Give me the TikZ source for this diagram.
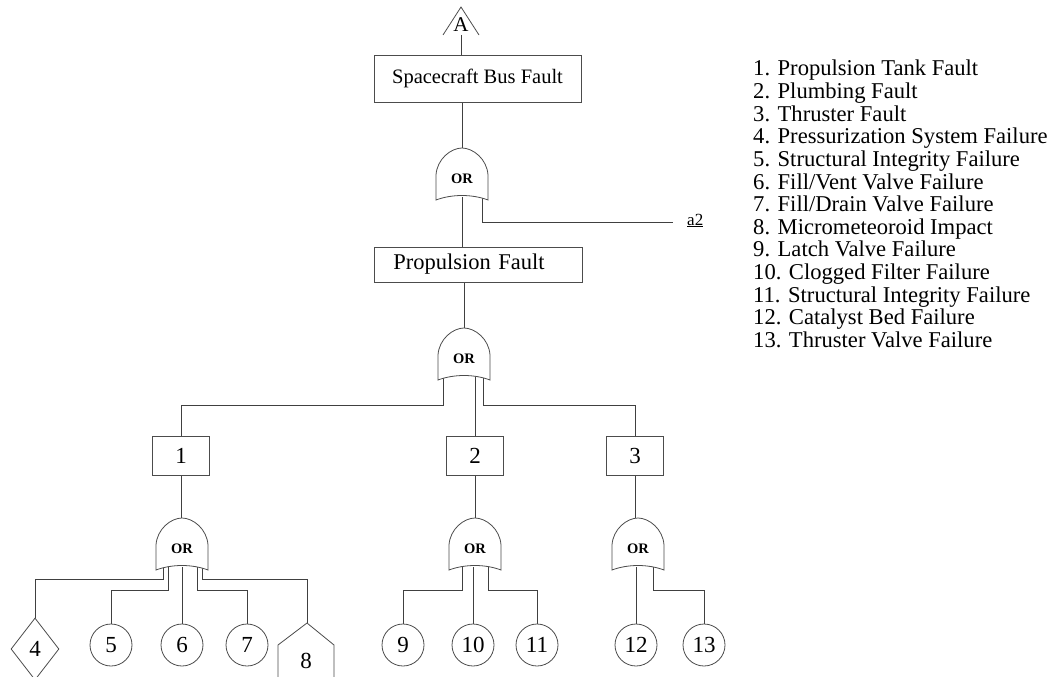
\documentclass[tikz,border=0pt]{standalone}
\usepackage{fontspec}
\setmainfont{Liberation Serif}
\usetikzlibrary{shapes.geometric,calc}
\pgfdeclarelayer{bg}
\pgfsetlayers{bg,main}
\tikzset{
  wire/.style={draw=black!75, line width=0.8pt},
  outline/.style={draw=black!70, line width=0.8pt, fill=white},
  eventbox/.style={outline, rectangle, inner sep=0pt},
  numbox/.style={eventbox, minimum width=57pt, minimum height=39pt, font=\fontsize{23}{23}\selectfont},
  basic/.style={outline, circle, minimum size=42pt, inner sep=0pt, font=\fontsize{23}{23}\selectfont},
  legtext/.style={anchor=base west, inner sep=0pt, font=\fontsize{22.6}{22.6}\selectfont},
  orgate/.pic={
    \path[outline] (-26,52) -- (-26,27) .. controls (-25,11) and (-11,0) .. (0,0)
      .. controls (11,0) and (25,11) .. (26,27) -- (26,52)
      .. controls (10,46) and (-10,46) .. (-26,52) -- cycle;
    \node[inner sep=0pt, font=\bfseries\fontsize{14.5}{14.5}\selectfont] (-lbl) at (0,31) {OR};
    \coordinate (-top) at (0,0);
    \coordinate (-b) at (0,49);
  }
}
\begin{document}
\begin{tikzpicture}[x=1pt,y=-1pt]
\useasboundingbox (0,0) rectangle (1050,677);
\clip (0,0) rectangle (1050,677);

% transfer-in triangle
\coordinate (tri) at (461,35);
\draw[outline, fill=none] (tri) ++(-18,0) -- ++(18,-28) -- ++(18,28);
\node[inner sep=0pt, font=\fontsize{21}{21}\selectfont] (tA) at (461,25) {A};

% top events
\node[eventbox, minimum width=207pt, minimum height=47pt, font=\fontsize{20.5}{20.5}\selectfont] (bus) at (477.5,78.5) {Spacecraft Bus Fault};
\pic (gA) at (462,148) {orgate};
\node[inner xsep=14pt, inner ysep=0pt, anchor=base west, font=\fontsize{17}{17}\selectfont] (a2) at (673,225) {\underline{a2}};
\node[eventbox, anchor=west, text width=170pt, align=left, inner xsep=19pt, minimum height=35pt, font=\fontsize{22.5}{22.5}\selectfont] (prop) at (374,264.5) {Propulsion Fault};
\pic (gB) at (464,328) {orgate};

% intermediate events
\node[numbox] (e1) at (181,455.5) {1};
\node[numbox] (e2) at (475,455.5) {2};
\node[numbox] (e3) at (635,455.5) {3};
\pic (gC) at (182,518) {orgate};
\pic (gD) at (475,518) {orgate};
\pic (gE) at (638,518) {orgate};

% basic and undeveloped events
\node[outline, diamond, minimum width=48pt, minimum height=62pt, inner sep=0pt, font=\fontsize{23}{23}\selectfont] (d4) at (35,649) {4};
\node[basic] (c5) at (111,645) {5};
\node[basic] (c6) at (182,645) {6};
\node[basic] (c7) at (247,645) {7};
\coordinate (h8) at (307,623);
\draw[outline] (h8) ++(-29,80) -- ++(0,-58) -- (h8) -- ++(27,22) -- ++(0,58);
\node[inner sep=0pt, font=\fontsize{23}{23}\selectfont] (n8) at (306,661) {8};
\node[basic] (c9) at (403,645) {9};
\node[basic] (c10) at (473,645) {10};
\node[basic] (c11) at (537,645) {11};
\node[basic] (c12) at (636,645) {12};
\node[basic] (c13) at (704,645) {13};

% legend
\foreach \t [count=\i] in {Propulsion Tank Fault, Plumbing Fault, Thruster Fault,
  Pressurization System Failure, Structural Integrity Failure, Fill/Vent Valve Failure,
  Fill/Drain Valve Failure, Micrometeoroid Impact, Latch Valve Failure,
  Clogged Filter Failure, Structural Integrity Failure, Catalyst Bed Failure,
  Thruster Valve Failure}
  \node[legtext] (leg\i) at (753,{76+22.6*(\i-1)}) {\i. \t};

% connectors
\begin{pgfonlayer}{bg}
\draw[wire] (tri) -- (tri |- bus.north);
\draw[wire] (bus.south -| gA-top) -- (gA-top);
\draw[wire] (gA-b) -- (prop.north -| gA-b);
\draw[wire] ([xshift=20pt]gA-b) |- ([yshift=3pt]a2.base west);
\draw[wire] (prop.south -| gB-top) -- (gB-top);
\draw[wire] ([xshift=-21pt]gB-b) -- ++(0,28) -| (e1.north);
\draw[wire] ([xshift=11pt]gB-b) -- (e2.north);
\draw[wire] ([xshift=19pt]gB-b) -- ++(0,28) -| (e3.north);
\draw[wire] (e1.south) -- (e1.south |- gC-top);
\draw[wire] (e2.south) -- (gD-top);
\draw[wire] (e3.south) -- (e3.south |- gE-top);
\draw[wire] ([xshift=-19pt]gC-b) -- ++(0,12) -| (d4.north);
\draw[wire] ([xshift=-14pt]gC-b) -- ++(0,23) -| (c5.north);
\draw[wire] (gC-b) -- (c6.north);
\draw[wire] ([xshift=15pt]gC-b) -- ++(0,23) -| (c7.north);
\draw[wire] ([xshift=20pt]gC-b) -- ++(0,12) -| (h8);
\draw[wire] ([xshift=-13pt]gD-b) -- ++(0,23) -| (c9.north);
\draw[wire] ([xshift=-2pt]gD-b) -- (c10.north);
\draw[wire] ([xshift=13pt]gD-b) -- ++(0,23) -| (c11.north);
\draw[wire] ([xshift=-2pt]gE-b) -- (c12.north);
\draw[wire] ([xshift=15pt]gE-b) -- ++(0,23) -| (c13.north);
\end{pgfonlayer}
\end{tikzpicture}
\end{document}
